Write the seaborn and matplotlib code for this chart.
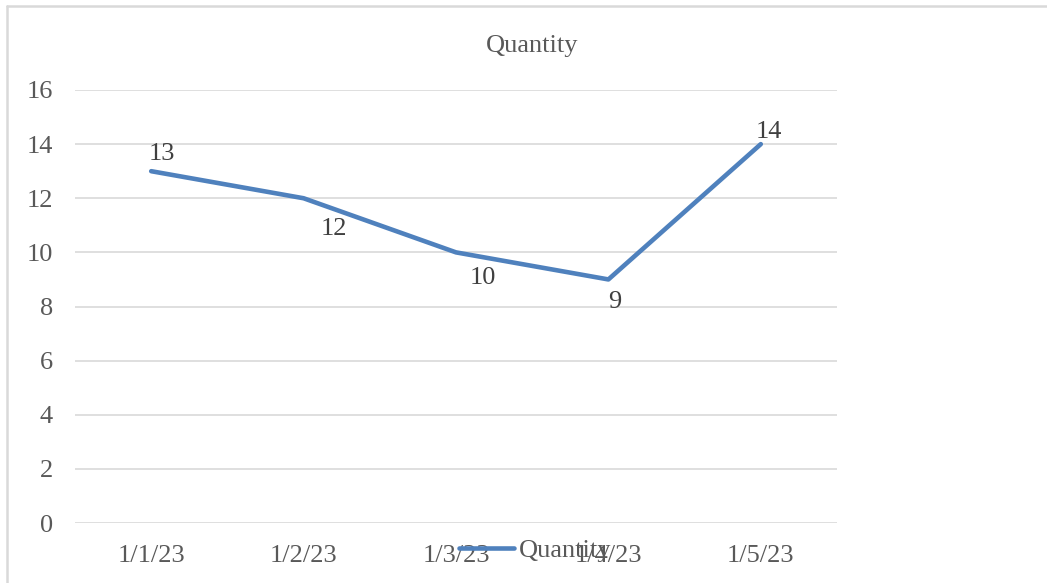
import matplotlib
matplotlib.use("Agg")
import matplotlib.pyplot as plt
from matplotlib.lines import Line2D
import seaborn as sns
import pandas as pd

# Daily quantities
dates = ["1/1/23", "1/2/23", "1/3/23", "1/4/23", "1/5/23"]
quantity = [13, 12, 10, 9, 14]
y_ticks = [0, 2, 4, 6, 8, 10, 12, 14, 16]

# Label offsets (pixels) relative to each point
label_offsets = [(11, 17), (30, -31), (27, -26), (6, -23), (8, 12)]

sns.set_theme(style="white")
plt.rcParams["font.family"] = ["Liberation Serif", "DejaVu Serif"]

W, H, DPI = 1047, 583, 100
fig = plt.figure(figsize=(W / DPI, H / DPI), dpi=DPI)
fig.patch.set_facecolor("white")

ax = fig.add_axes([75 / W, 1 - 523 / H, (837 - 75) / W, (523 - 90) / H])

df = pd.DataFrame({"Date": dates, "Quantity": quantity})
line_color = "#4F81BD"
sns.lineplot(data=df, x="Date", y="Quantity", ax=ax, color=line_color,
             linewidth=3.3, label="Quantity", legend=False, sort=False)
for ln in ax.get_lines():
    ln.set_solid_capstyle("round")
    ln.set_solid_joinstyle("round")

ax.set_xlim(-0.5, len(dates) - 0.5)
ax.set_ylim(0, 16)
ax.set_yticks(y_ticks)
ax.set_xticks(range(len(dates)))
ax.set_xticklabels(dates)
ax.set_xlabel("")
ax.set_ylabel("")

text_color = "#595959"
ax.tick_params(axis="both", length=0, labelsize=19, labelcolor=text_color)
ax.tick_params(axis="y", pad=16)
ax.tick_params(axis="x", pad=16)

ax.yaxis.grid(True, color="#D9D9D9", linewidth=1.2)
ax.xaxis.grid(False)
ax.set_axisbelow(True)
for s in ax.spines.values():
    s.set_visible(False)

# Value labels
for i, (v, (dx, dy)) in enumerate(zip(quantity, label_offsets)):
    ax.annotate(str(v), xy=(i, v), xytext=(dx, dy), textcoords="offset pixels",
                ha="center", va="center", fontsize=19, color="#404040")

# Chart title
fig.text(532 / W, 1 - 46 / H, "Quantity", ha="center", va="center",
         fontsize=19, color=text_color)

# Legend below the plot
handles, labels = ax.get_legend_handles_labels()
leg = fig.legend(handles, labels, loc="center",
                 bbox_to_anchor=(535 / W, 1 - 550 / H), frameon=False,
                 fontsize=19, handlelength=2.1, handletextpad=0.15,
                 borderpad=0, borderaxespad=0)
for t in leg.get_texts():
    t.set_color(text_color)

# Chart area border (left and top edges)
border_color = "#D9D9D9"
fig.add_artist(Line2D([7 / W, 7 / W], [0, 1 - 6 / H], transform=fig.transFigure,
                      color=border_color, linewidth=1.8))
fig.add_artist(Line2D([7 / W, 1], [1 - 6 / H, 1 - 6 / H], transform=fig.transFigure,
                      color=border_color, linewidth=1.8))

fig.savefig("out.png", dpi=DPI)
